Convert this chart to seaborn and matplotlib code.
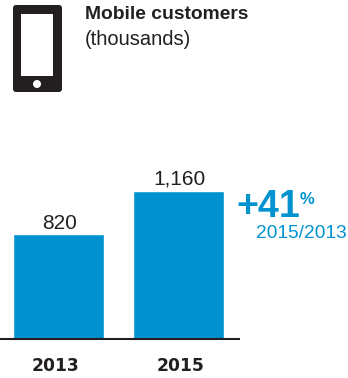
import matplotlib
matplotlib.use("Agg")
import matplotlib.pyplot as plt
from matplotlib.patches import FancyBboxPatch, Rectangle, Circle
from matplotlib.transforms import ScaledTranslation
import pandas as pd
import seaborn as sns

years = ["2013", "2015"]
customers = [820, 1160]
value_labels = ["820", "1,160"]
title = "Mobile customers"
subtitle = "(thousands)"
growth = "+41"
growth_unit = "%"
growth_period = "2015/2013"

BLUE = "#0093D0"
INK = "#231F20"
W, H = 348, 378

sns.set_theme(style="white")
plt.rcParams["font.family"] = ["Liberation Sans", "DejaVu Sans"]

fig = plt.figure(figsize=(W / 100, H / 100), dpi=100, facecolor="white")

# Bar panel: baseline sits at y=339 px and runs from the left edge to x=239 px
ax = fig.add_axes([0, (H - 339) / H, 239 / W, 180 / H])
df = pd.DataFrame({"year": years, "customers": customers})
sns.barplot(data=df, x="year", y="customers", color=BLUE, saturation=1,
            width=0.765, ax=ax)
ax.set_xlim(-0.4875, 1.504)
ax.set_ylim(0, 180 * 1160 / 148)
ax.set_xlabel("")
ax.set_ylabel("")
ax.set_yticks([])
ax.tick_params(axis="x", length=0, pad=13)
# Year labels sit slightly off the bar centres, pushed apart
for label, dx in zip(ax.get_xticklabels(), (-3, 2.5)):
    label.set_fontsize(12.3)
    label.set_fontweight("bold")
    label.set_family("DejaVu Sans")
    label.set_color(INK)
    label.set_transform(label.get_transform()
                        + ScaledTranslation(dx / 100, 0, fig.dpi_scale_trans))
for side in ("top", "left", "right"):
    ax.spines[side].set_visible(False)
ax.spines["bottom"].set_color(INK)
ax.spines["bottom"].set_linewidth(1.5)
ax.patch.set_alpha(0)

for i, (value, text, dx, dy) in enumerate(zip(customers, value_labels, (1.5, 1), (1, 3))):
    ax.annotate(text, (i, value), xytext=(dx, dy), textcoords="offset pixels",
                ha="center", va="bottom", fontsize=15, color=INK)

# Overlay in pixel coordinates for the icon and annotation text
ov = fig.add_axes([0, 0, 1, 1], facecolor="none")
ov.set_xlim(0, W)
ov.set_ylim(H, 0)
ov.axis("off")

ov.add_patch(FancyBboxPatch((13, 5), 49, 87, boxstyle="round,pad=0,rounding_size=3",
                            fc=INK, ec="none"))
ov.add_patch(Rectangle((20.7, 14), 32.6, 62, fc="white", ec="none"))
ov.add_patch(Circle((37, 84), 4, fc="white", ec="none"))

ov.text(85, 14.5, title, fontsize=13.9, fontweight="bold", color=INK, ha="left", va="center")
ov.text(85, 39.5, subtitle, fontsize=14.5, color=INK, ha="left", va="center")

ov.text(236, 207, growth, fontsize=27, fontweight="bold", color=BLUE, ha="left", va="center")
ov.text(300, 200, growth_unit, fontsize=12, fontweight="bold", color=BLUE, ha="left", va="center")
ov.text(256, 234, growth_period, fontsize=13.8, color=BLUE, ha="left", va="center")

fig.savefig("out.png", dpi=100)
